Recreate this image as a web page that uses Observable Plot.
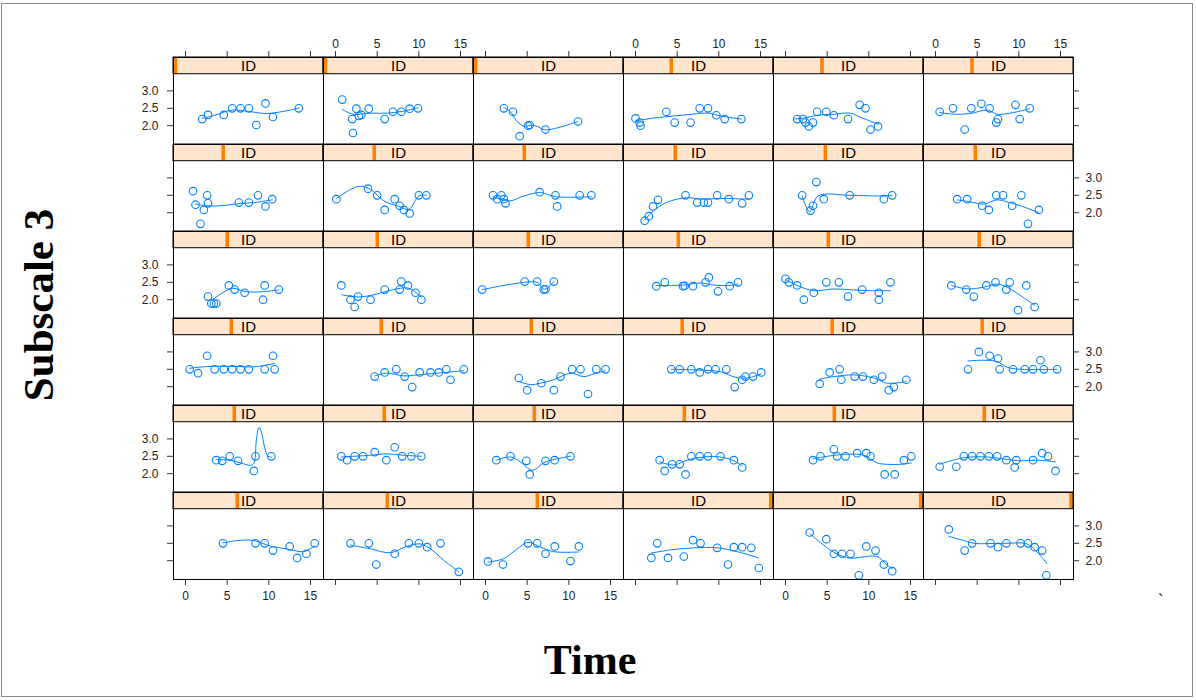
<!DOCTYPE html>
<html>
<head>
<meta charset="utf-8">
<script src="https://cdn.jsdelivr.net/npm/d3@7"></script>
<script src="https://cdn.jsdelivr.net/npm/@observablehq/plot@0.6"></script>
<style>
  html, body { margin: 0; padding: 0; background: #fff; }
  #wrap { position: relative; width: 1196px; height: 700px; overflow: hidden; background: #fff; }
  #border { position: absolute; left: 1px; top: 3px; width: 1192px; height: 694px; border: 1px solid #8a8a8a; box-sizing: border-box; }
  #chart { position: absolute; left: 0; top: 0; }
  .ttl { position: absolute; font-family: "Liberation Serif", "Times New Roman", serif; font-weight: bold; color: #000; white-space: nowrap; }
  #ylab { left: 38px; top: 305px; font-size: 43px; transform: translate(-50%, -50%) rotate(-90deg); }
  #xlab { left: 590px; top: 660px; font-size: 42px; transform: translate(-50%, -50%); }
  #tick { left: 1158px; top: 592px; font-size: 16px; font-family: "Liberation Sans", Arial, sans-serif; font-weight: normal; }
</style>
</head>
<body>
<div id="wrap">
  <div id="border"></div>
  <div id="chart"></div>
  <div class="ttl" id="ylab">Subscale 3</div>
  <div class="ttl" id="xlab">Time</div>
  <div class="ttl" id="tick">`</div>
</div>
<script>
// ---- Data (panels in reading order: row 1 col 1..6, row 2 ...) ----
const obsTime = [
  [2.0, 2.7, 4.6, 5.6, 6.6, 7.6, 8.5, 9.6, 10.5, 13.6],
  [0.8, 2.0, 2.1, 2.5, 2.8, 3.1, 4.0, 5.9, 6.9, 7.9, 8.9, 9.9],
  [2.2, 3.3, 4.1, 5.1, 5.3, 7.2, 11.1],
  [0.0, 0.5, 0.6, 3.7, 4.7, 6.6, 7.7, 8.7, 9.7, 10.7, 12.7],
  [1.4, 2.1, 2.4, 2.8, 3.3, 3.8, 4.9, 5.8, 7.5, 8.9, 9.6, 10.2, 11.1],
  [0.5, 2.1, 3.5, 4.3, 5.5, 6.5, 7.3, 7.5, 9.6, 10.1, 11.3],
  [0.9, 1.2, 1.8, 2.2, 2.6, 2.7, 6.4, 7.6, 8.7, 9.6, 10.4],
  [0.1, 3.9, 5.0, 5.9, 7.1, 7.7, 8.2, 8.9, 10.0, 10.9],
  [0.9, 1.4, 1.9, 2.2, 2.4, 6.5, 8.4, 8.6, 11.3, 12.7],
  [1.1, 1.6, 2.1, 2.7, 6.0, 7.4, 8.2, 8.7, 9.8, 11.2, 12.8, 13.6],
  [2.0, 3.0, 3.3, 3.7, 4.6, 7.7, 11.8, 12.8],
  [2.6, 3.8, 5.6, 6.4, 7.3, 8.1, 9.2, 10.3, 11.1, 12.4],
  [2.7, 3.1, 3.4, 3.7, 5.2, 5.9, 7.1, 9.3, 9.5, 11.2],
  [0.7, 1.8, 2.3, 2.7, 4.2, 5.9, 7.7, 7.9, 8.7, 9.6, 10.3],
  [-0.4, 4.7, 6.2, 7.0, 7.2, 8.2],
  [2.5, 3.5, 5.7, 5.9, 6.9, 8.4, 8.8, 9.9, 11.3, 12.3],
  [0.0, 0.4, 1.4, 2.2, 3.4, 4.9, 6.4, 7.5, 9.2, 11.2, 11.2, 12.6],
  [1.9, 3.7, 4.6, 6.1, 7.2, 8.5, 8.9, 9.9, 10.9, 11.9],
  [0.5, 1.5, 2.6, 3.5, 4.6, 5.6, 6.6, 7.6, 9.5, 10.5, 10.7],
  [4.7, 5.9, 7.3, 8.3, 9.2, 10.1, 11.4, 12.4, 13.3, 13.8, 15.4],
  [4.0, 5.0, 6.7, 8.2, 9.0, 10.4, 11.4, 12.3, 13.3, 14.4],
  [4.3, 5.3, 6.7, 7.7, 8.7, 9.6, 10.9, 11.9, 12.8, 13.2, 14.1, 15.1],
  [4.1, 5.3, 6.5, 6.7, 8.3, 9.3, 10.6, 11.6, 12.4, 13.0, 14.5],
  [3.9, 5.2, 6.5, 7.5, 7.7, 9.3, 10.7, 11.7, 12.6, 13.0, 14.6],
  [3.7, 4.4, 5.3, 6.3, 8.2, 8.4, 10.3],
  [0.7, 1.4, 2.3, 3.3, 4.7, 6.1, 7.1, 8.0, 9.1, 10.3],
  [1.3, 3.0, 4.9, 5.3, 7.2, 8.3, 10.2],
  [2.9, 3.5, 4.4, 5.3, 6.0, 6.7, 7.7, 8.7, 10.2, 11.8, 12.8],
  [3.3, 4.2, 5.8, 6.2, 7.2, 8.6, 9.7, 10.2, 11.9, 13.1, 14.2, 15.1],
  [0.5, 2.5, 3.4, 4.4, 5.4, 6.4, 7.4, 8.5, 9.5, 9.7, 11.7, 12.8, 13.5, 14.4],
  [4.5, 8.4, 9.5, 10.5, 12.5, 13.4, 14.5, 15.5],
  [1.8, 4.0, 4.9, 7.1, 8.8, 10.0, 11.0, 12.6, 14.8],
  [0.3, 2.1, 5.1, 6.2, 7.2, 8.3, 10.2, 11.2],
  [1.9, 2.6, 3.9, 5.8, 6.9, 7.8, 9.8, 11.1, 11.8, 12.8, 13.9, 14.8],
  [2.9, 4.9, 5.8, 6.8, 7.8, 8.8, 9.7, 10.8, 11.8, 12.8],
  [1.6, 3.5, 4.4, 6.6, 7.5, 8.5, 10.2, 11.1, 11.9, 12.8, 13.3]
];
const obsScore = [
  [2.19, 2.31, 2.31, 2.5, 2.5, 2.5, 2.02, 2.64, 2.25, 2.5],
  [2.75, 2.19, 1.79, 2.49, 2.28, 2.31, 2.49, 2.19, 2.4, 2.4, 2.49, 2.5],
  [2.5, 2.4, 1.7, 2.0, 2.02, 1.89, 2.12],
  [2.21, 2.09, 2.0, 2.4, 2.09, 2.09, 2.5, 2.5, 2.3, 2.19, 2.19],
  [2.19, 2.19, 2.09, 1.98, 2.09, 2.4, 2.4, 2.3, 2.19, 2.6, 2.5, 1.89, 1.98],
  [2.4, 2.5, 1.89, 2.5, 2.63, 2.5, 2.09, 2.19, 2.6, 2.19, 2.5],
  [2.62, 2.23, 1.68, 2.08, 2.5, 2.27, 2.29, 2.29, 2.5, 2.18, 2.39],
  [2.39, 2.69, 2.5, 2.08, 2.39, 2.2, 2.08, 1.98, 2.5, 2.5],
  [2.5, 2.39, 2.5, 2.39, 2.27, 2.59, 2.5, 2.18, 2.5, 2.5],
  [1.77, 1.9, 2.18, 2.37, 2.5, 2.29, 2.29, 2.29, 2.5, 2.39, 2.27, 2.5],
  [2.5, 2.06, 2.2, 2.88, 2.39, 2.5, 2.39, 2.5],
  [2.39, 2.39, 2.2, 2.08, 2.5, 2.5, 2.2, 2.5, 1.68, 2.08],
  [2.09, 1.89, 1.89, 1.89, 2.41, 2.29, 2.2, 2.0, 2.41, 2.29],
  [2.41, 2.0, 1.79, 2.09, 2.0, 2.29, 2.29, 2.52, 2.41, 2.2, 2.0],
  [2.29, 2.52, 2.52, 2.29, 2.3, 2.52],
  [2.39, 2.5, 2.39, 2.4, 2.39, 2.5, 2.64, 2.24, 2.39, 2.5],
  [2.6, 2.5, 2.41, 2.0, 2.2, 2.5, 2.5, 2.09, 2.29, 2.2, 2.0, 2.5],
  [2.41, 2.29, 2.09, 2.41, 2.5, 2.29, 2.5, 1.7, 2.41, 1.79],
  [2.5, 2.39, 2.89, 2.5, 2.5, 2.5, 2.5, 2.5, 2.5, 2.89, 2.5],
  [2.29, 2.41, 2.5, 2.29, 1.99, 2.41, 2.41, 2.41, 2.5, 2.2, 2.5],
  [2.25, 1.9, 2.1, 1.9, 2.29, 2.5, 2.5, 1.79, 2.5, 2.5],
  [2.5, 2.5, 2.5, 2.41, 2.5, 2.5, 2.5, 1.99, 2.2, 2.29, 2.29, 2.41],
  [2.08, 2.41, 2.5, 2.2, 2.29, 2.29, 2.2, 2.29, 1.9, 1.99, 2.2],
  [2.5, 3.0, 2.89, 2.81, 2.5, 2.5, 2.5, 2.5, 2.76, 2.5, 2.5],
  [2.39, 2.37, 2.5, 2.37, 2.08, 2.5, 2.5],
  [2.5, 2.39, 2.5, 2.5, 2.62, 2.39, 2.76, 2.5, 2.5, 2.5],
  [2.39, 2.5, 2.37, 1.98, 2.37, 2.39, 2.5],
  [2.39, 2.08, 2.27, 2.27, 1.98, 2.5, 2.5, 2.5, 2.5, 2.39, 2.18],
  [2.39, 2.5, 2.7, 2.5, 2.5, 2.59, 2.59, 2.5, 1.98, 1.98, 2.39, 2.5],
  [2.2, 2.2, 2.5, 2.5, 2.5, 2.5, 2.5, 2.39, 2.18, 2.39, 2.39, 2.59, 2.5, 2.08],
  [2.5, 2.5, 2.5, 2.29, 2.41, 2.08, 2.2, 2.5],
  [2.5, 2.5, 1.89, 2.2, 2.5, 2.5, 2.39, 2.5, 1.68],
  [1.98, 1.89, 2.5, 2.5, 2.2, 2.41, 1.99, 2.41],
  [2.08, 2.5, 2.08, 2.12, 2.59, 2.5, 2.37, 1.89, 2.39, 2.39, 2.37, 1.79],
  [2.81, 2.62, 2.2, 2.2, 2.2, 1.58, 2.41, 2.29, 1.89, 1.7],
  [2.9, 2.29, 2.5, 2.5, 2.39, 2.5, 2.5, 2.5, 2.39, 2.29, 1.58]
];
// smooth (loess) curve
const fitTime = [
  [2.0, 3.5, 5.6, 7.6, 9.8, 13.6],
  [0.8, 2.1, 4.2, 6.2, 8.2, 9.9],
  [2.2, 3.0, 3.8, 4.8, 5.4, 6.2, 7.2, 11.1],
  [0.0, 2.2, 4.6, 6.8, 8.8, 10.2, 12.7],
  [1.0, 2.2, 3.8, 5.8, 7.8, 9.0, 11.2],
  [0.5, 2.2, 4.2, 6.2, 7.4, 9.4, 11.3],
  [1.2, 2.6, 4.2, 6.4, 8.2, 10.4],
  [0.1, 1.8, 3.0, 4.2, 5.8, 7.4, 8.8, 10.0, 10.9],
  [0.9, 2.0, 3.0, 4.6, 6.5, 8.4, 12.7],
  [1.1, 2.2, 3.4, 5.0, 6.2, 8.2, 10.2, 13.6],
  [2.0, 2.9, 3.9, 7.7, 11.8, 12.8],
  [2.6, 4.2, 5.8, 7.4, 8.6, 10.2, 12.4],
  [3.1, 4.6, 5.6, 7.1, 8.6, 11.2],
  [0.8, 2.6, 4.2, 5.8, 7.8, 8.8, 10.3],
  [-0.4, 2.2, 4.7, 6.2, 7.1, 8.2],
  [2.5, 5.8, 7.8, 9.4, 11.4, 12.3],
  [0.0, 1.4, 3.4, 5.8, 8.2, 10.2, 12.6],
  [1.9, 3.8, 5.8, 7.4, 8.6, 10.2, 11.9],
  [0.5, 2.6, 6.2, 8.2, 10.7],
  [4.7, 6.2, 8.2, 9.8, 12.2, 15.4],
  [4.0, 5.4, 6.6, 8.2, 10.2, 11.8, 13.0, 14.4],
  [4.3, 7.4, 10.2, 12.0, 13.4, 15.1],
  [4.1, 5.8, 8.2, 10.6, 12.2, 14.5],
  [3.9, 5.8, 7.4, 8.6, 10.2, 14.6],
  [3.7, 5.3, 6.6, 7.8, 8.2, 8.5, 8.8, 9.1, 9.5, 9.9, 10.3],
  [0.7, 4.2, 6.2, 8.2, 10.3],
  [1.3, 3.0, 4.2, 5.6, 7.2, 10.2],
  [2.9, 4.6, 6.2, 8.2, 10.2, 11.8, 12.8],
  [3.3, 5.0, 7.4, 9.4, 11.0, 12.2, 13.8, 15.1],
  [0.5, 3.4, 6.2, 8.6, 10.2, 12.2, 14.4],
  [4.5, 6.2, 8.2, 10.2, 12.2, 14.2, 15.5],
  [1.8, 4.2, 6.6, 8.6, 10.2, 11.4, 13.0, 14.8],
  [0.3, 2.2, 3.8, 5.1, 6.6, 8.2, 11.2],
  [1.9, 4.2, 7.0, 9.8, 12.2, 14.8],
  [2.9, 4.2, 5.8, 7.8, 9.0, 11.0, 12.2, 12.8],
  [1.6, 3.4, 4.6, 8.2, 11.0, 12.2, 13.4]
];
const fitScore = [
  [2.21, 2.3, 2.45, 2.41, 2.35, 2.5],
  [2.47, 2.33, 2.36, 2.36, 2.42, 2.52],
  [2.52, 2.4, 2.12, 1.97, 2.02, 1.98, 1.88, 2.12],
  [2.14, 2.22, 2.28, 2.33, 2.36, 2.28, 2.19],
  [2.19, 2.22, 2.3, 2.33, 2.36, 2.24, 2.04],
  [2.38, 2.33, 2.35, 2.45, 2.33, 2.38, 2.49],
  [2.25, 2.2, 2.2, 2.26, 2.29, 2.37],
  [2.4, 2.67, 2.76, 2.67, 2.34, 2.2, 2.1, 2.48, 2.5],
  [2.46, 2.37, 2.34, 2.48, 2.58, 2.46, 2.46],
  [1.8, 2.06, 2.26, 2.39, 2.43, 2.39, 2.41, 2.39],
  [2.48, 2.02, 2.48, 2.5, 2.48, 2.5],
  [2.37, 2.31, 2.25, 2.37, 2.31, 2.2, 2.0],
  [1.98, 2.22, 2.33, 2.24, 2.22, 2.28],
  [2.14, 2.08, 2.12, 2.22, 2.33, 2.33, 2.08],
  [2.29, 2.41, 2.5, 2.5, 2.3, 2.52],
  [2.41, 2.42, 2.48, 2.42, 2.41, 2.45],
  [2.58, 2.41, 2.26, 2.31, 2.28, 2.26, 2.26],
  [2.41, 2.31, 2.36, 2.45, 2.36, 2.12, 1.84],
  [2.53, 2.58, 2.58, 2.57, 2.67],
  [2.31, 2.39, 2.31, 2.34, 2.39, 2.46],
  [2.15, 2.06, 2.1, 2.2, 2.39, 2.29, 2.37, 2.46],
  [2.5, 2.48, 2.43, 2.27, 2.25, 2.37],
  [2.22, 2.29, 2.34, 2.25, 2.1, 2.15],
  [2.74, 2.76, 2.72, 2.56, 2.5, 2.5],
  [2.41, 2.39, 2.31, 2.24, 2.3, 2.95, 3.33, 3.2, 2.75, 2.5, 2.48],
  [2.48, 2.53, 2.57, 2.53, 2.5],
  [2.39, 2.48, 2.34, 2.1, 2.34, 2.5],
  [2.34, 2.25, 2.39, 2.48, 2.48, 2.37, 2.22],
  [2.43, 2.5, 2.56, 2.53, 2.31, 2.27, 2.27, 2.31],
  [2.27, 2.46, 2.48, 2.41, 2.37, 2.39, 2.34],
  [2.51, 2.58, 2.58, 2.42, 2.34, 2.26, 2.43],
  [2.45, 2.34, 2.23, 2.42, 2.48, 2.34, 2.01, 1.68],
  [1.96, 2.06, 2.34, 2.53, 2.39, 2.26, 2.25],
  [2.22, 2.31, 2.37, 2.37, 2.26, 2.08],
  [2.78, 2.52, 2.24, 2.07, 2.1, 2.12, 1.87, 1.77],
  [2.7, 2.58, 2.5, 2.5, 2.48, 2.25, 1.91]
];
// position of each panel's ID level within the strip (fraction of the strip width)
const idLevelPos = [
  0.005, 0.005, 0.005, 0.31, 0.315, 0.315,
  0.323, 0.33, 0.33, 0.337, 0.337, 0.337,
  0.35, 0.35, 0.357, 0.357, 0.357, 0.363,
  0.377, 0.377, 0.377, 0.383, 0.383, 0.383,
  0.397, 0.397, 0.397, 0.397, 0.397, 0.397,
  0.417, 0.417, 0.417, 0.973, 0.973, 0.975
];
const stripLabel = "ID";
const panelCols = [1, 2, 3, 4, 5, 6];
const panelRows = [1, 2, 3, 4, 5, 6];
const xTicks = [0, 5, 10, 15];
const yTicks = [2.0, 2.5, 3.0];
const yTickLabels = ["2.0", "2.5", "3.0"];
const topLabelCols = [2, 4, 6], bottomLabelCols = [1, 3, 5];
const leftLabelRows = [1, 3, 5], rightLabelRows = [2, 4, 6];

// ---- Build tables ----
const panels = idLevelPos.map((p, i) => ({panel: i, row: Math.floor(i / 6) + 1, col: (i % 6) + 1, pos: p}));
const points = obsTime.flatMap((ts, i) => ts.map((t, j) => ({panel: i, row: panels[i].row, col: panels[i].col, t, v: obsScore[i][j]})));
const fits = fitTime.flatMap((ts, i) => ts.map((t, j) => ({panel: i, row: panels[i].row, col: panels[i].col, t, v: fitScore[i][j]})));
const topLabels = topLabelCols.flatMap(c => xTicks.map(t => ({col: c, row: 1, t, label: String(t)})));
const bottomLabels = bottomLabelCols.flatMap(c => xTicks.map(t => ({col: c, row: 6, t, label: String(t)})));
const leftLabels = leftLabelRows.flatMap(r => yTicks.map((v, k) => ({col: 1, row: r, v, label: yTickLabels[k]})));
const rightLabels = rightLabelRows.flatMap(r => yTicks.map((v, k) => ({col: 6, row: r, v, label: yTickLabels[k]})));
const topTicks = panelCols.flatMap(c => xTicks.map(t => ({col: c, row: 1, t})));
const bottomTicks = panelCols.flatMap(c => xTicks.map(t => ({col: c, row: 6, t})));
const leftTicks = panelRows.flatMap(r => yTicks.map(v => ({col: 1, row: r, v})));
const rightTicks = panelRows.flatMap(r => yTicks.map(v => ({col: 6, row: r, v})));

const xDomain = [-1.44, 16.56];
const yDomain = [1.46, 3.96];
const stripBase = 3.48;
const xSpan = xDomain[1] - xDomain[0];
const barW = 0.42;
const tickLen = 6;

const blue = "#0080ff";
const ink = "#333";
const chart = Plot.plot({
  width: 1196, height: 700,
  marginLeft: 173, marginRight: 123, marginTop: 55, marginBottom: 120,
  x: {domain: xDomain, axis: null},
  y: {domain: yDomain, axis: null},
  fx: {domain: panelCols, padding: 0, axis: null},
  fy: {domain: panelRows, padding: 0, axis: null},
  style: {fontFamily: "'Liberation Sans', Arial, sans-serif", fontSize: "12px", background: "transparent", overflow: "visible"},
  marks: [
    Plot.rect(panels, {fx: "col", fy: "row", y1: stripBase, y2: yDomain[1], fill: "#ffe5cc"}),
    Plot.rect(panels, {fx: "col", fy: "row", x1: d => xDomain[0] + d.pos * xSpan, x2: d => xDomain[0] + d.pos * xSpan + barW, y1: stripBase, y2: yDomain[1], fill: "#ff7f00"}),
    Plot.rect(panels, {fx: "col", fy: "row", y1: stripBase, y2: yDomain[1], fill: "none", stroke: "#000", strokeWidth: 1}),
    Plot.text(panels, {fx: "col", fy: "row", x: () => (xDomain[0] + xDomain[1]) / 2, y: () => (stripBase + yDomain[1]) / 2, lineAnchor: "middle", text: () => stripLabel, fontSize: 15, fill: "#000"}),
    Plot.line(fits, {fx: "col", fy: "row", x: "t", y: "v", z: "panel", stroke: blue, strokeWidth: 1, curve: "catmull-rom"}),
    Plot.dot(points, {fx: "col", fy: "row", x: "t", y: "v", r: 3.8, stroke: blue, strokeWidth: 1.1, fill: "none"}),
    Plot.frame({stroke: "#000", strokeWidth: 1}),
    // tick marks just outside the panel edges
    Plot.ruleX(topTicks, {fx: "col", fy: "row", x: "t", y1: yDomain[1], y2: yDomain[1], insetTop: -tickLen, stroke: ink}),
    Plot.ruleX(bottomTicks, {fx: "col", fy: "row", x: "t", y1: yDomain[0], y2: yDomain[0], insetBottom: -tickLen, stroke: ink}),
    Plot.ruleY(leftTicks, {fx: "col", fy: "row", y: "v", x1: xDomain[0], x2: xDomain[0], insetLeft: -tickLen, stroke: ink}),
    Plot.ruleY(rightTicks, {fx: "col", fy: "row", y: "v", x1: xDomain[1], x2: xDomain[1], insetRight: -tickLen, stroke: ink}),
    // tick labels (alternating, lattice style)
    Plot.text(topLabels, {fx: "col", fy: "row", x: "t", frameAnchor: "top", lineAnchor: "middle", dy: -13, text: "label", fill: "#222"}),
    Plot.text(bottomLabels, {fx: "col", fy: "row", x: "t", frameAnchor: "bottom", lineAnchor: "middle", dy: 17, text: "label", fill: "#222"}),
    Plot.text(leftLabels, {fx: "col", fy: "row", y: "v", frameAnchor: "left", dx: -15, textAnchor: "end", text: "label", fill: "#222"}),
    Plot.text(rightLabels, {fx: "col", fy: "row", y: "v", frameAnchor: "right", dx: 12, textAnchor: "start", text: "label", fill: "#222"})
  ]
});
document.getElementById("chart").appendChild(chart);
</script>
</body>
</html>
